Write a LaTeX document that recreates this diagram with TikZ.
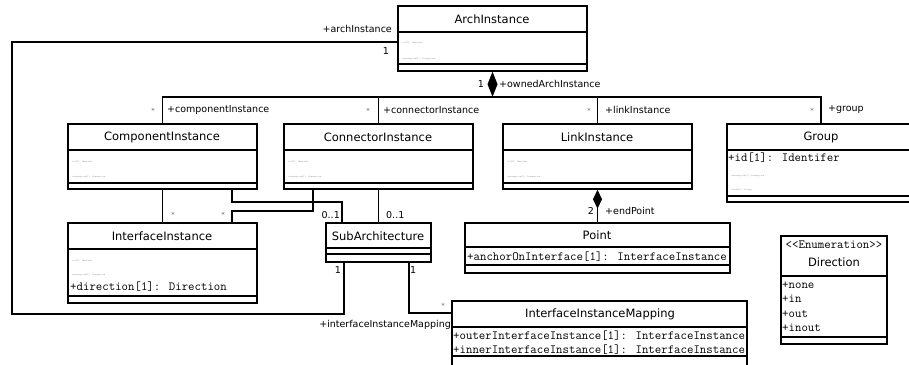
\documentclass[tikz,border=0pt]{standalone}
\usepackage{fontspec}
\newfontfamily\umlsans{DejaVu Sans}
\usetikzlibrary{arrows.meta,fit}

\tikzset{
  cls/.style={draw, line width=1.5pt, inner sep=0pt},
  sep/.style={line width=1.5pt},
  assoc/.style={line width=1.5pt},
  title/.style={font=\umlsans\fontsize{11.5}{12}\selectfont, inner sep=0pt},
  attr/.style={font=\ttfamily\fontsize{12.5}{13}\selectfont, anchor=west, inner sep=0pt},
  tinyattr/.style={font=\ttfamily\fontsize{2.2}{2.2}\selectfont, text=gray, anchor=west, inner sep=0pt},
  role/.style={font=\umlsans\fontsize{9.5}{10}\selectfont, inner sep=0pt},
  star/.style={font=\umlsans\fontsize{7}{7}\selectfont, text=black!60, inner sep=0pt},
}

\begin{document}
\begin{tikzpicture}[x=1pt,y=-1pt]
\useasboundingbox (0,0) rectangle (909,364);

% classes
\node[cls, fit={(398,6) (587,71)}] (arch) {};
\draw[sep] (398,32) -- (587,32);
\draw[sep] (398,64) -- (587,64);
\node[title] at (492,19) {ArchInstance};
\node[tinyattr] at (402,43) {+id[1]: Identifer};
\node[tinyattr] at (402,59) {+description[1]: Description};

\node[cls, fit={(68,124) (257,189)}] (comp) {};
\draw[sep] (68,150) -- (257,150);
\draw[sep] (68,183) -- (257,183);
\node[title] at (162,137) {ComponentInstance};
\node[tinyattr] at (72,162) {+id[1]: Identifer};
\node[tinyattr] at (72,177) {+description[1]: Description};

\node[cls, fit={(284,124) (473,189)}] (conn) {};
\draw[sep] (284,150) -- (473,150);
\draw[sep] (284,183) -- (473,183);
\node[title] at (378,137) {ConnectorInstance};
\node[tinyattr] at (288,162) {+id[1]: Identifer};
\node[tinyattr] at (288,177) {+description[1]: Description};

\node[cls, fit={(503,124) (692,189)}] (link) {};
\draw[sep] (503,150) -- (692,150);
\draw[sep] (503,183) -- (692,183);
\node[title] at (597,137) {LinkInstance};
\node[tinyattr] at (507,162) {+id[1]: Identifer};
\node[tinyattr] at (507,177) {+description[1]: Description};

\node[cls, fit={(727,124) (915,202)}] (group) {};
\draw[sep] (727,150) -- (915,150);
\draw[sep] (727,196) -- (915,196);
\node[title] at (821,137) {Group};
\node[attr] at (728,158) {+id[1]: Identifer};
\node[tinyattr] at (731,176) {+description[1]: Description};
\node[tinyattr] at (731,190) {+label[1]: String};

\node[cls, fit={(68,223) (257,303)}] (iface) {};
\draw[sep] (68,249) -- (257,249);
\draw[sep] (68,296) -- (257,296);
\node[title] at (162,236) {InterfaceInstance};
\node[tinyattr] at (72,261) {+id[1]: Identifer};
\node[tinyattr] at (72,275) {+description[1]: Description};
\node[attr] at (70,287) {+direction[1]: Direction};

\node[cls, fit={(326,223) (431,262)}] (sub) {};
\draw[sep] (326,248) -- (431,248);
\draw[sep] (326,254) -- (431,254);
\node[title] at (378,236) {SubArchitecture};

\node[cls, fit={(465,223) (730,273)}] (point) {};
\draw[sep] (465,247) -- (730,247);
\draw[sep] (465,265) -- (730,265);
\node[title] at (597,235) {Point};
\node[attr] at (467,257) {+anchorOnInterface[1]: InterfaceInstance};

\node[cls, fit={(781,236) (887,344)}] (dir) {};
\draw[sep] (781,276) -- (887,276);
\draw[sep] (781,337) -- (887,337);
\node[attr, anchor=center] at (834,245) {\textless\textless Enumeration\textgreater\textgreater};
\node[title] at (834,262) {Direction};
\node[attr] at (782,285) {+none};
\node[attr] at (782,299) {+in};
\node[attr] at (782,314) {+out};
\node[attr] at (782,328) {+inout};

\node[cls, fit={(452,301) (747,372)}] (map) {};
\draw[sep] (452,327) -- (747,327);
\draw[sep] (452,356) -- (747,356);
\node[title] at (600,314) {InterfaceInstanceMapping};
\node[attr] at (453,336) {+outerInterfaceInstance[1]: InterfaceInstance};
\node[attr] at (453,350) {+innerInterfaceInstance[1]: InterfaceInstance};

% ownedArchInstance composition
\coordinate (bus) at (arch.south |- 0,97);
\draw[assoc, {Diamond[length=25pt,width=10pt]}-] (arch.south) -- (bus);
\draw[assoc] (comp.north) |- (bus) -| (group.north);
\draw[assoc] (conn.north) -- (conn.north |- bus);
\draw[assoc] (link.north) -- (link.north |- bus);
\node[role, anchor=east] at (484,84) {1};
\node[role, anchor=west] at (499,84) {+ownedArchInstance};
\node[star] at (153,111) {*};
\node[role, anchor=west] at (167,110) {+componentInstance};
\node[star] at (368,111) {*};
\node[role, anchor=west] at (383,110) {+connectorInstance};
\node[star] at (589,111) {*};
\node[role, anchor=west] at (605,110) {+linkInstance};
\node[star] at (812,111) {*};
\node[role, anchor=west] at (828,110) {+group};

% endPoint composition
\draw[assoc, {Diamond[length=19pt,width=9pt]}-] (link.south) -- (point.north);
\node[role, anchor=east] at (594,211) {2};
\node[role, anchor=west] at (605,211) {+endPoint};

% archInstance
\draw[assoc] (arch.west |- 0,42) -- (12,42) -- (12,314) -- (344,314) -- (sub.south -| 344,0);
\node[role, anchor=east] at (392,29) {+archInstance};
\node[role, anchor=east] at (389,51) {1};
\node[role, anchor=east] at (341,270) {1};

% interfaceInstanceMapping
\draw[assoc] (sub.south -| 409,0) |- (map.west |- 0,313);
\node[role, anchor=west] at (410,270) {1};
\node[star] at (443,306) {*};
\node[role, anchor=east] at (451,325) {+interfaceInstanceMapping};

% instances and sub architecture
\draw[assoc] (comp.south) -- (iface.north);
\node[star] at (173,215) {*};
\draw[assoc] (comp.south -| 232,0) |- (342,202) -- (sub.north -| 342,0);
\node[role, anchor=east] at (340,215) {0..1};
\draw[assoc] (conn.south -| 313,0) |- (232,211) -- (iface.north -| 232,0);
\node[star] at (223,215) {*};
\draw[assoc] (conn.south) -- (sub.north);
\node[role, anchor=west] at (386,215) {0..1};
\end{tikzpicture}
\end{document}
